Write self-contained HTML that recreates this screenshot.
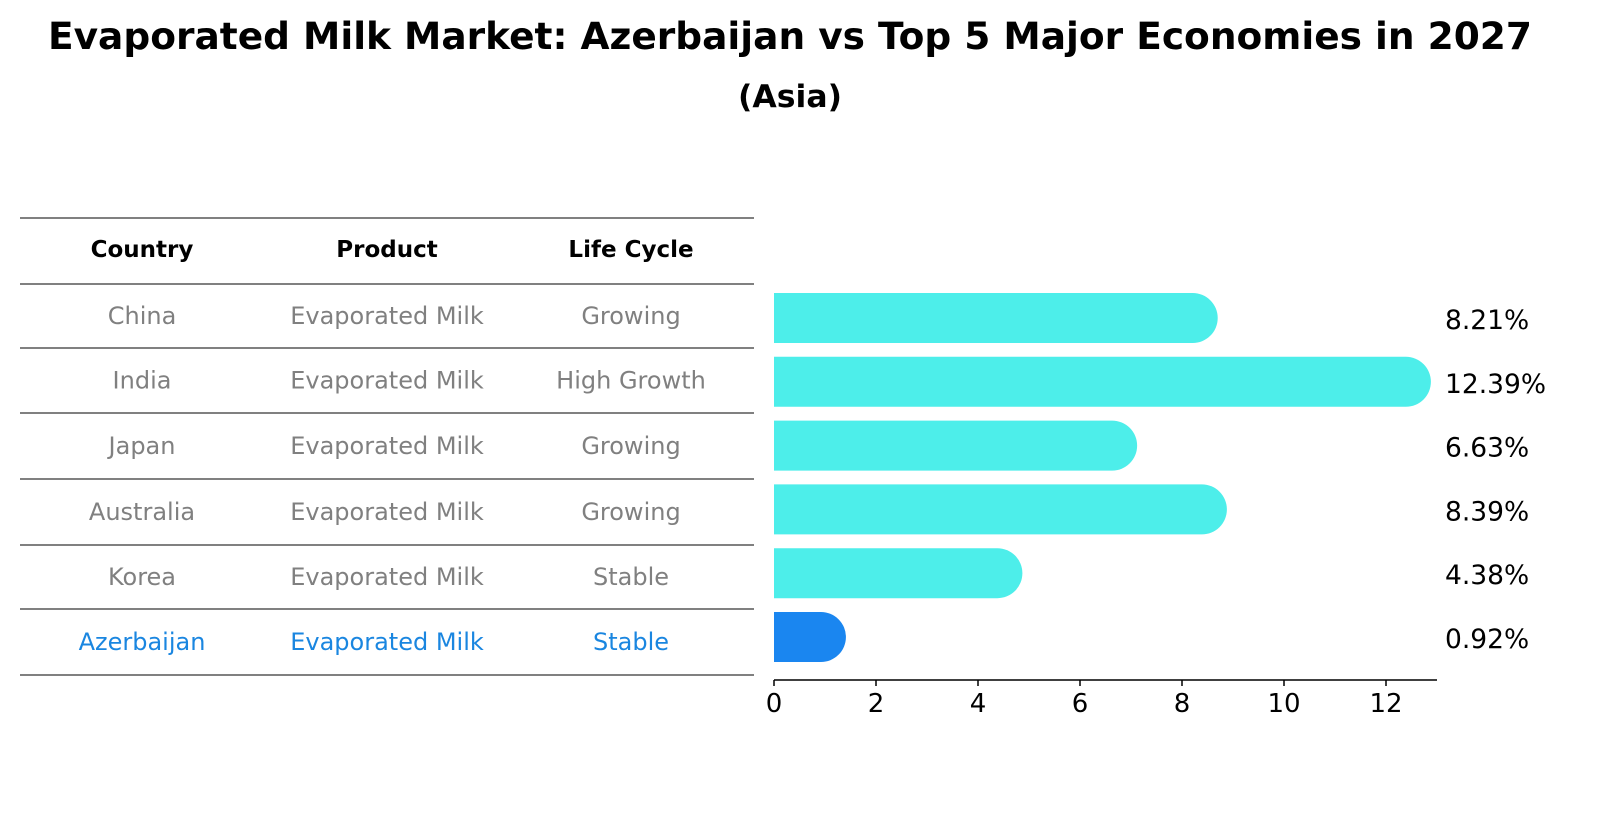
<!DOCTYPE html>
<html><head><meta charset="utf-8"><style>
body{margin:0;background:#fff;font-family:"Liberation Sans","DejaVu Sans",sans-serif}
</style></head><body>
<svg width="1604" height="823" xmlns="http://www.w3.org/2000/svg" font-family="DejaVu Sans, Liberation Sans, sans-serif">
<text x="790" y="49" text-anchor="middle" font-size="37.5" font-weight="bold">Evaporated Milk Market: Azerbaijan vs Top 5 Major Economies in 2027</text>
<text x="790" y="107" text-anchor="middle" font-size="31.5" font-weight="bold">(Asia)</text>
<g id="table"></g>
<g id="bars"></g>
</svg>
<script>
const countries=["China","India","Japan","Australia","Korea","Azerbaijan"];
const products=["Evaporated Milk","Evaporated Milk","Evaporated Milk","Evaporated Milk","Evaporated Milk","Evaporated Milk"];
const cycles=["Growing","High Growth","Growing","Growing","Stable","Stable"];
const values=[8.21,12.39,6.63,8.39,4.38,0.92];
const ticks=[0,2,4,6,8,10,12];
const NS="http://www.w3.org/2000/svg";
function mk(tag,attrs,parent,txt){const e=document.createElementNS(NS,tag);for(const k in attrs)e.setAttribute(k,attrs[k]);if(txt!==undefined)e.textContent=txt;parent.appendChild(e);return e;}
const tb=document.getElementById('table');
const lineYs=[218,284,348,413,479,545,609,675];
lineYs.forEach(y=>{const l=mk('line',{x1:20,x2:754,y1:y,y2:y,stroke:'#000','stroke-width':1},tb);

});
const colX=[142,387,631];
["Country","Product","Life Cycle"].forEach((h,i)=>{const t=mk('text',{x:colX[i],y:257,'text-anchor':'middle','font-size':23,'font-weight':'bold'},tb,h);

});
countries.forEach((c,r)=>{const y=(lineYs[r+1]+lineYs[r+2])/2+8;const col=c==="Azerbaijan"?'#1a86e0':'#808080';
[c,products[r],cycles[r]].forEach((v,i)=>{const t=mk('text',{x:colX[i],y:y,'text-anchor':'middle','font-size':24,fill:col},tb,v);

});});
const g=document.getElementById('bars');
const x0=774,ppu=51,axisY=680;
const xs=v=>x0+v*ppu;
const yc=i=>318+i*63.8;
const R=25;
values.forEach((v,i)=>{const xe=xs(v),y=yc(i);const col=countries[i]==="Azerbaijan"?'#1a86f0':'#4deeea';
const p=mk('path',{d:`M${x0},${y-R} L${xe},${y-R} A${R},${R} 0 0 1 ${xe},${y+R} L${x0},${y+R} Z`,fill:col},g);


const t=mk('text',{x:1445,y:y+11,'font-size':26.5},g,v.toFixed(2)+'%');

});
const ax=mk('line',{x1:x0,x2:1437,y1:axisY,y2:axisY,stroke:'#000','stroke-width':1.5},g);


ticks.forEach(t=>{const tk=mk('line',{x1:xs(t),x2:xs(t),y1:axisY,y2:axisY+6,stroke:'#000','stroke-width':1.5},g);


const l=mk('text',{x:xs(t),y:axisY+32,'text-anchor':'middle','font-size':26},g,String(t));

});
</script>
</body></html>
